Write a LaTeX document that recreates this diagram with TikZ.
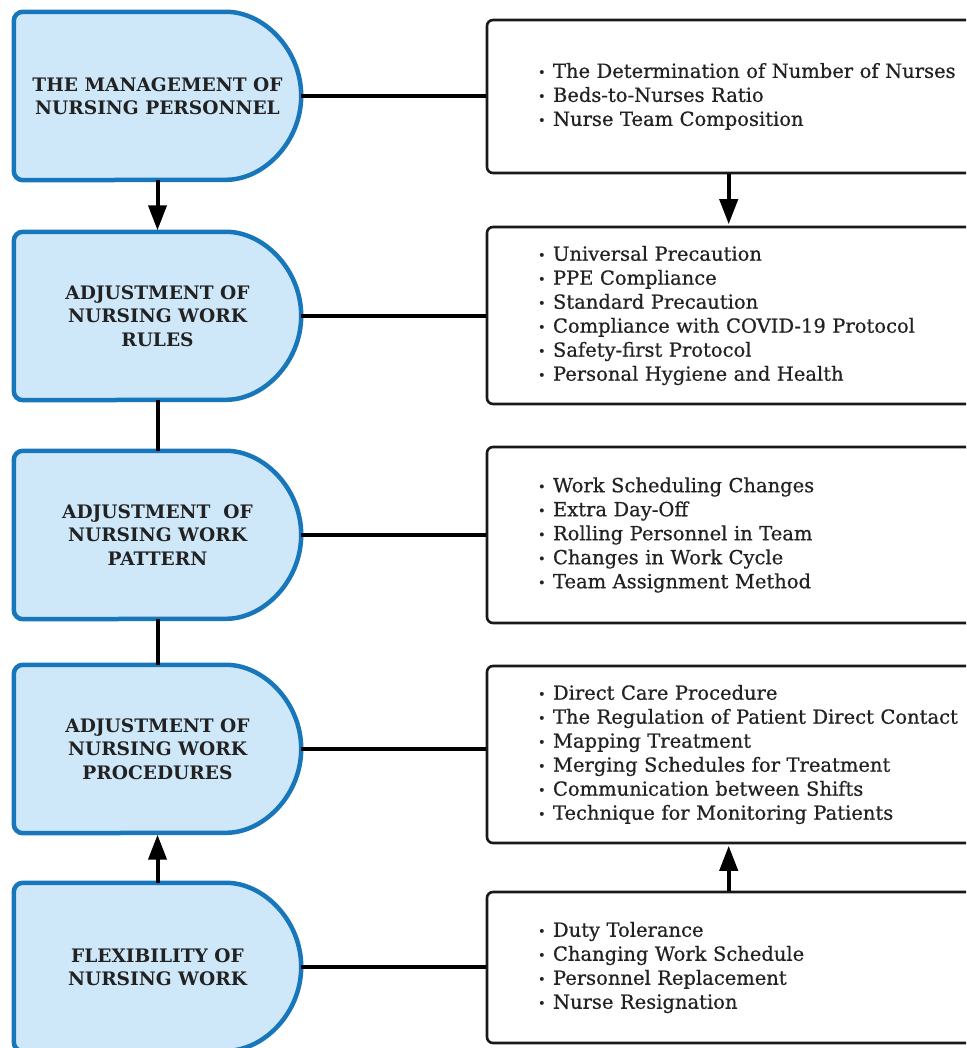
\documentclass[tikz,border=0pt]{standalone}
\usepackage{fontspec}
\setmainfont{DejaVu Serif}
\newfontfamily\rfont[FakeBold=0.6]{DejaVu Serif}
\usetikzlibrary{arrows.meta,calc,backgrounds}
\definecolor{dfill}{RGB}{206,232,249}
\definecolor{dborder}{RGB}{24,119,186}
\definecolor{txt}{RGB}{34,34,34}
\newcommand{\bul}{\makebox[15pt][l]{\raisebox{1pt}{\fontsize{13}{13}\selectfont\textbullet}}}
\newcommand{\Dshape}[1]{%
  \path[dbox] ($(#1.north west)!0.5!(#1.north east)$) -- ($(#1.north east)+(-84,0)$)
    arc[start angle=-90,end angle=90,radius=84] -- (#1.south west) -- (#1.north west) -- cycle;}
\begin{document}
\begin{tikzpicture}[x=1pt,y=-1pt,
  dnode/.style={minimum width=287pt, minimum height=168pt, inner sep=0pt, align=center,
    text=txt, font=\fontsize{18.6}{23.5}\selectfont\bfseries},
  dbox/.style={fill=dfill, draw=dborder, line width=4.5pt, rounded corners=9pt},
  rbox/.style={draw=black!90, line width=2.6pt, rounded corners=6pt, fill=white,
    text width=500pt, inner xsep=51pt, inner ysep=0pt, align=left, text=txt,
    font=\rfont\fontsize{19.5}{24}\selectfont},
  link/.style={draw=black, line width=4pt},
  arr/.style={link, -{Triangle[length=25pt,width=18pt]}, shorten >=1.5pt},
]
\useasboundingbox (0,0) rectangle (966,1048);
\clip (0,0) rectangle (966,1048);

% left column
\node[dnode] (L1) at (157.5,96) {THE MANAGEMENT OF\\NURSING PERSONNEL};
\node[dnode] (L2) at (157.5,316) {ADJUSTMENT OF\\NURSING WORK\\RULES};
\node[dnode] (L3) at (157.5,535) {ADJUSTMENT\ \ OF\\NURSING WORK\\PATTERN};
\node[dnode] (L4) at (157.5,749) {ADJUSTMENT OF\\NURSING WORK\\PROCEDURES};
\node[dnode] (L5) at (157.5,967) {FLEXIBILITY OF\\NURSING WORK};

\begin{pgfonlayer}{background}
\Dshape{L1}\Dshape{L2}\Dshape{L3}\Dshape{L4}\Dshape{L5}
\end{pgfonlayer}

% right column
\node[rbox, minimum height=153pt] (R1) at (788,96.5) {\bul The Determination of Number of Nurses\\\bul Beds-to-Nurses Ratio\\\bul Nurse Team Composition};
\node[rbox, minimum height=177pt] (R2) at (788,315.5) {\bul Universal Precaution\\\bul PPE Compliance\\\bul Standard Precaution\\\bul Compliance with COVID-19 Protocol\\\bul Safety-first Protocol\\\bul Personal Hygiene and Health};
\node[rbox, minimum height=176pt] (R3) at (788,535) {\bul Work Scheduling Changes\\\bul Extra Day-Off\\\bul Rolling Personnel in Team\\\bul Changes in Work Cycle\\\bul Team Assignment Method};
\node[rbox, minimum height=177pt] (R4) at (788,754.5) {\bul Direct Care Procedure\\\bul The Regulation of Patient Direct Contact\\\bul Mapping Treatment\\\bul Merging Schedules for Treatment\\\bul Communication between Shifts\\\bul Technique for Monitoring Patients};
\node[rbox, minimum height=151pt] (R5) at (788,967.5) {\bul Duty Tolerance\\\bul Changing Work Schedule\\\bul Personnel Replacement\\\bul Nurse Resignation};

% horizontal links
\foreach \i in {1,...,5}{
  \draw[link] (L\i.east) -- (L\i.east -| R\i.west);
}

% vertical links
\draw[arr] (L1.south) -- (L2.north);
\draw[link] (L2.south) -- (L3.north);
\draw[link] (L3.south) -- (L4.north);
\draw[arr] (L5.north) -- (L4.south);
\draw[arr] ([xshift=243pt]R1.south west) -- ([xshift=243pt]R2.north west);
\draw[arr] ([xshift=243pt]R5.north west) -- ([xshift=243pt]R4.south west);
\end{tikzpicture}
\end{document}
